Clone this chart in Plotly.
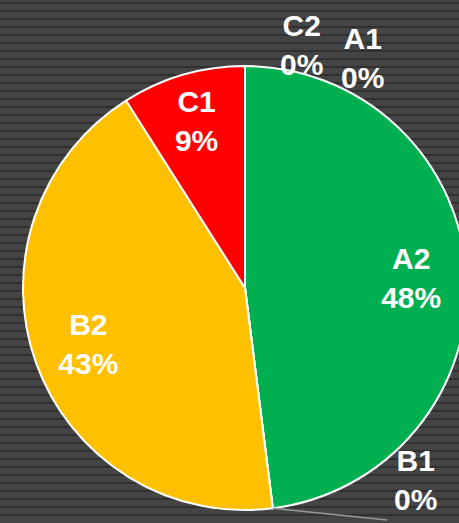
import math
import plotly.graph_objects as go

labels = ["A1", "A2", "B1", "B2", "C1", "C2"]
values = [0, 48, 0, 43, 9, 0]
colors = ["#00B050", "#00B050", "#FFC000", "#FFC000", "#FF0000", "#FF0000"]

FONT = "Liberation Sans, Arial, sans-serif"
TXT = dict(family=FONT, size=30, color="white", weight="bold")

total = sum(values)
pct_text = [f"{lab}<br>{round(v / total * 100)}%" for lab, v in zip(labels, values)]
inside_pos = ["none" if v == 0 else "inside" for v in values]

fig = go.Figure()
# coloured pie
fig.add_trace(go.Pie(
    labels=labels, values=values, sort=False, direction="clockwise", rotation=0,
    automargin=False,
    marker=dict(colors=colors, line=dict(color="white", width=2)),
    textinfo="none", showlegend=False, hoverinfo="label+percent",
))
# label layer (same data) so labels sit toward the rim like the original
fig.add_trace(go.Pie(
    labels=labels, values=values, sort=False, direction="clockwise", rotation=0,
    automargin=False, hole=0.5,
    marker=dict(colors=["rgba(0,0,0,0)"] * len(values), line=dict(width=0)),
    text=pct_text, textinfo="text", textposition=inside_pos,
    insidetextorientation="horizontal", textfont=TXT,
    showlegend=False, hoverinfo="skip",
))

# labels of the empty slices
label_pos = {"C2": (0.628, 1.047), "A1": (0.764, 1.018), "B1": (0.885, 0.068)}
annotations = []
for lab, txt, v in zip(labels, pct_text, values):
    if v == 0:
        x, y = label_pos[lab]
        annotations.append(dict(xref="paper", yref="paper", x=x, y=y, text=txt,
                                xanchor="center", yanchor="middle",
                                showarrow=False, font=TXT, align="center"))

shapes = []
# leader line for B1 from the slice edge
i_b1 = labels.index("B1")
ang = 2 * math.pi * (sum(values[:i_b1]) + values[i_b1] / 2) / total
tip = (0.5 + 0.5 * math.sin(ang), 0.5 + 0.5 * math.cos(ang))
shapes.append(dict(type="line", xref="paper", yref="paper", x0=tip[0], y0=tip[1],
                   x1=0.82, y1=-0.0225, line=dict(color="#9a9a9a", width=1.5)))

# striped dark backdrop
W, H = 480, 523
ml, mr, mt, mb = 23, 13, 66, 13
pw, ph = W - ml - mr, H - mt - mb
bg = []
for py in range(3, H, 8):
    yp = (H - mb - py) / ph
    bg.append(dict(type="line", xref="paper", yref="paper", x0=-0.1, x1=1.1,
                   y0=yp, y1=yp, line=dict(color="#1c1c1c", width=1.2), layer="below"))

fig.update_layout(
    width=W, height=H,
    margin=dict(l=ml, r=mr, t=mt, b=mb),
    paper_bgcolor="#444444",
    plot_bgcolor="#444444",
    annotations=annotations,
    shapes=bg + shapes,
)

fig.write_html("out.html", config={"displayModeBar": False},
               post_script="document.body.style.margin='0';document.body.style.overflow='hidden';document.documentElement.style.overflow='hidden';")
